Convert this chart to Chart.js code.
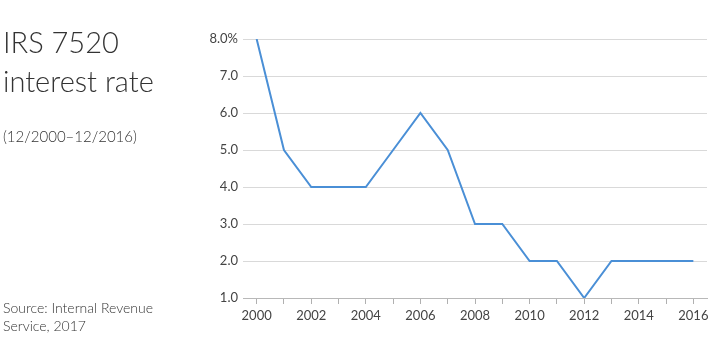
<!DOCTYPE html>
<html>
<head>
<meta charset="utf-8">
<script src="https://cdn.jsdelivr.net/npm/chart.js@4"></script>
<style>
  html, body { margin:0; padding:0; background:#fff; }
  body { width:725px; height:354px; position:relative; overflow:hidden; font-family: Lato, "Open Sans", sans-serif; color:#333; }
  #wrap { position:absolute; left:0; top:0; width:725px; height:354px; }
  .t { position:absolute; left:3px; white-space:nowrap; font-weight:300; }
  #title { top:22px; font-size:29px; line-height:39px; }
  #sub { top:127px; font-size:15px; }
  #src { top:299px; font-size:14px; line-height:18px; }
</style>
</head>
<body>
<div id="wrap"><canvas id="c" width="725" height="354"></canvas></div>
<div class="t" id="title">IRS 7520<br>interest rate</div>
<div class="t" id="sub">(12/2000–12/2016)</div>
<div class="t" id="src">Source: Internal Revenue<br>Service, 2017</div>
<script>
const years = ["2000","2001","2002","2003","2004","2005","2006","2007","2008","2009","2010","2011","2012","2013","2014","2015","2016"];
const rates = [8.0, 5.0, 4.0, 4.0, 4.0, 5.0, 6.0, 5.0, 3.0, 3.0, 2.0, 2.0, 1.0, 2.0, 2.0, 2.0, 2.0];
const yTicks = [1, 2, 3, 4, 5, 6, 7, 8];

new Chart(document.getElementById('c'), {
  type: 'line',
  data: {
    labels: years,
    datasets: [{
      data: rates,
      borderColor: '#4a8fd6',
      borderWidth: 2,
      pointRadius: 0,
      tension: 0,
      fill: false
    }]
  },
  options: {
    responsive: false,
    animation: false,
    events: [],
    layout: { padding: { left: 190, right: 18, top: 39, bottom: 14 } },
    plugins: { legend: { display: false }, tooltip: { enabled: false } },
    scales: {
      x: {
        type: 'category',
        offset: true,
        grid: { display: true, drawOnChartArea: false, drawTicks: true, tickLength: 6, color: '#b0b0b0', lineWidth: 1 },
        border: { display: true, color: '#b8b8b8', width: 1 },
        ticks: {
          color: '#444',
          font: { family: 'Lato', size: 13 },
          padding: 4,
          maxRotation: 0,
          autoSkip: false,
          callback: function(v, i) { return i % 2 === 0 ? years[i] : ''; }
        },
        afterFit: function(s) { s.height = 42; }
      },
      y: {
        min: 1, max: 8,
        grid: { color: '#d9d9d9', lineWidth: 1, drawTicks: false },
        border: { display: false },
        afterBuildTicks: function(s) { s.ticks = yTicks.map(v => ({ value: v })); },
        ticks: {
          color: '#444',
          font: { family: 'Lato', size: 13 },
          padding: 5,
          callback: function(v) { return v === 8 ? v.toFixed(1) + '%' : v.toFixed(1); }
        },
        afterFit: function(s) { s.width = 53; }
      }
    }
  }
});
</script>
</body>
</html>
